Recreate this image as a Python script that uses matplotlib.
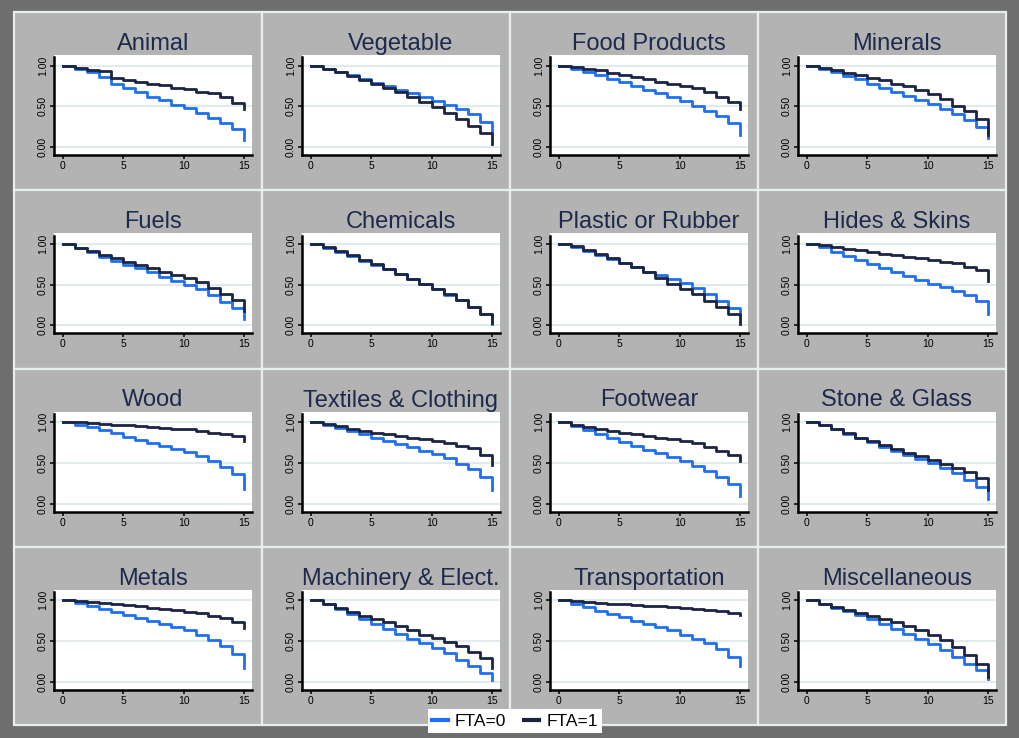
import matplotlib
matplotlib.use("Agg")
import matplotlib.pyplot as plt
from matplotlib.lines import Line2D
from matplotlib.patches import Rectangle

plt.rcParams["font.family"] = ["Liberation Sans", "DejaVu Sans"]

# ====== data: survival share by year, FTA=0 / FTA=1 ======
years = list(range(16))

animal_0 = [1.00, 0.96, 0.92, 0.86, 0.78, 0.72, 0.67, 0.62, 0.58, 0.52, 0.48, 0.42, 0.36, 0.29, 0.22, 0.09]
animal_1 = [1.00, 0.975, 0.95, 0.93, 0.85, 0.82, 0.80, 0.78, 0.76, 0.73, 0.71, 0.68, 0.66, 0.62, 0.54, 0.47]
vegetable_0 = [1.00, 0.96, 0.92, 0.88, 0.83, 0.79, 0.75, 0.70, 0.66, 0.62, 0.57, 0.52, 0.47, 0.40, 0.31, 0.18]
vegetable_1 = [1.00, 0.955, 0.92, 0.87, 0.82, 0.77, 0.72, 0.67, 0.61, 0.55, 0.49, 0.42, 0.35, 0.26, 0.17, 0.04]
food_0 = [1.00, 0.96, 0.92, 0.88, 0.84, 0.80, 0.75, 0.70, 0.66, 0.61, 0.56, 0.50, 0.44, 0.38, 0.30, 0.15]
food_1 = [1.00, 0.98, 0.96, 0.94, 0.91, 0.89, 0.86, 0.83, 0.80, 0.78, 0.75, 0.72, 0.67, 0.62, 0.55, 0.47]
minerals_0 = [1.00, 0.96, 0.92, 0.87, 0.83, 0.78, 0.73, 0.68, 0.63, 0.58, 0.53, 0.47, 0.40, 0.33, 0.25, 0.11]
minerals_1 = [1.00, 0.97, 0.94, 0.91, 0.88, 0.85, 0.82, 0.78, 0.75, 0.70, 0.65, 0.59, 0.50, 0.44, 0.34, 0.15]
fuels_0 = [1.00, 0.95, 0.90, 0.84, 0.79, 0.74, 0.70, 0.65, 0.59, 0.54, 0.49, 0.44, 0.37, 0.29, 0.21, 0.08]
fuels_1 = [1.00, 0.95, 0.91, 0.86, 0.82, 0.78, 0.74, 0.70, 0.66, 0.62, 0.58, 0.53, 0.46, 0.39, 0.31, 0.18]
chemicals_0 = [1.00, 0.955, 0.905, 0.85, 0.79, 0.74, 0.685, 0.625, 0.565, 0.505, 0.445, 0.375, 0.305, 0.225, 0.135, 0.02]
chemicals_1 = [1.00, 0.96, 0.91, 0.86, 0.80, 0.75, 0.69, 0.63, 0.57, 0.51, 0.45, 0.38, 0.31, 0.23, 0.14, 0.03]
plastic_0 = [1.00, 0.96, 0.91, 0.86, 0.81, 0.76, 0.71, 0.66, 0.62, 0.57, 0.52, 0.46, 0.38, 0.30, 0.21, 0.12]
plastic_1 = [1.00, 0.97, 0.92, 0.87, 0.82, 0.77, 0.71, 0.65, 0.58, 0.51, 0.45, 0.38, 0.30, 0.22, 0.14, 0.02]
hides_0 = [1.00, 0.96, 0.90, 0.85, 0.80, 0.75, 0.70, 0.66, 0.61, 0.56, 0.51, 0.47, 0.42, 0.37, 0.30, 0.14]
hides_1 = [1.00, 0.98, 0.96, 0.94, 0.92, 0.90, 0.88, 0.86, 0.84, 0.82, 0.80, 0.78, 0.76, 0.72, 0.68, 0.54]
wood_0 = [1.00, 0.97, 0.94, 0.90, 0.86, 0.82, 0.78, 0.74, 0.71, 0.67, 0.63, 0.58, 0.52, 0.45, 0.36, 0.18]
wood_1 = [1.00, 0.995, 0.99, 0.98, 0.97, 0.96, 0.95, 0.94, 0.93, 0.92, 0.91, 0.89, 0.87, 0.85, 0.83, 0.77]
textiles_0 = [1.00, 0.96, 0.93, 0.89, 0.85, 0.81, 0.77, 0.73, 0.69, 0.65, 0.61, 0.56, 0.49, 0.42, 0.32, 0.17]
textiles_1 = [1.00, 0.98, 0.95, 0.92, 0.89, 0.87, 0.85, 0.83, 0.81, 0.79, 0.77, 0.74, 0.71, 0.68, 0.60, 0.47]
footwear_0 = [1.00, 0.95, 0.90, 0.85, 0.80, 0.76, 0.71, 0.66, 0.62, 0.57, 0.52, 0.46, 0.40, 0.33, 0.24, 0.09]
footwear_1 = [1.00, 0.97, 0.94, 0.91, 0.89, 0.87, 0.85, 0.83, 0.81, 0.79, 0.77, 0.74, 0.70, 0.65, 0.59, 0.52]
stone_0 = [1.00, 0.96, 0.91, 0.85, 0.80, 0.75, 0.70, 0.65, 0.60, 0.55, 0.50, 0.44, 0.37, 0.29, 0.20, 0.05]
stone_1 = [1.00, 0.96, 0.91, 0.86, 0.81, 0.77, 0.72, 0.67, 0.62, 0.58, 0.53, 0.49, 0.44, 0.39, 0.31, 0.17]
metals_0 = [1.00, 0.97, 0.93, 0.89, 0.86, 0.82, 0.78, 0.75, 0.71, 0.67, 0.63, 0.57, 0.51, 0.44, 0.34, 0.17]
metals_1 = [1.00, 0.995, 0.98, 0.97, 0.95, 0.94, 0.93, 0.91, 0.89, 0.88, 0.86, 0.84, 0.81, 0.78, 0.74, 0.66]
machinery_0 = [1.00, 0.95, 0.89, 0.83, 0.77, 0.71, 0.65, 0.59, 0.53, 0.47, 0.41, 0.35, 0.27, 0.19, 0.11, 0.02]
machinery_1 = [1.00, 0.95, 0.90, 0.86, 0.81, 0.77, 0.73, 0.68, 0.63, 0.58, 0.54, 0.49, 0.44, 0.37, 0.29, 0.17]
transport_0 = [1.00, 0.96, 0.92, 0.87, 0.83, 0.79, 0.75, 0.71, 0.67, 0.63, 0.58, 0.53, 0.47, 0.40, 0.31, 0.19]
transport_1 = [1.00, 0.99, 0.98, 0.97, 0.96, 0.95, 0.945, 0.935, 0.925, 0.915, 0.905, 0.895, 0.885, 0.87, 0.85, 0.82]
misc_0 = [1.00, 0.95, 0.91, 0.87, 0.82, 0.77, 0.71, 0.65, 0.59, 0.53, 0.46, 0.39, 0.31, 0.22, 0.14, 0.03]
misc_1 = [1.00, 0.96, 0.92, 0.88, 0.85, 0.81, 0.77, 0.73, 0.68, 0.63, 0.57, 0.51, 0.43, 0.33, 0.22, 0.06]

sectors = [
    ("Animal", animal_0, animal_1),
    ("Vegetable", vegetable_0, vegetable_1),
    ("Food Products", food_0, food_1),
    ("Minerals", minerals_0, minerals_1),
    ("Fuels", fuels_0, fuels_1),
    ("Chemicals", chemicals_0, chemicals_1),
    ("Plastic or Rubber", plastic_0, plastic_1),
    ("Hides & Skins", hides_0, hides_1),
    ("Wood", wood_0, wood_1),
    ("Textiles & Clothing", textiles_0, textiles_1),
    ("Footwear", footwear_0, footwear_1),
    ("Stone & Glass", stone_0, stone_1),
    ("Metals", metals_0, metals_1),
    ("Machinery & Elect.", machinery_0, machinery_1),
    ("Transportation", transport_0, transport_1),
    ("Miscellaneous", misc_0, misc_1),
]

x_ticks = [0, 5, 10, 15]
y_ticks = [0.0, 0.5, 1.0]
y_tick_labels = ["0.00", "0.50", "1.00"]
legend_labels = ["FTA=0", "FTA=1"]

# ====== style ======
W, H = 1020, 738
OUTER = "#6e6e6e"
PANEL = "#b3b3b3"
SEP = "#e6eeee"
GRID = "#e1ebeb"
BLUE = "#1f6ff2"
NAVY = "#1b2442"
TITLE = "#1e2a4c"

LEFT, TOP = 14, 12
PW, PH = 248, 178.25

fig = plt.figure(figsize=(W / 100, H / 100), dpi=100, facecolor=OUTER)


def fx(px):
    return px / W


def fy(py):
    return 1 - py / H


for i, (name, fta0, fta1) in enumerate(sectors):
    r, c = divmod(i, 4)
    x0 = LEFT + c * PW
    y0 = TOP + r * PH

    # panel background, drawn below the axes
    fig.patches.append(Rectangle(
        (fx(x0), fy(y0 + PH)), PW / W, PH / H,
        transform=fig.transFigure, facecolor=PANEL,
        edgecolor=SEP, linewidth=1.6, zorder=-5,
    ))

    ax = fig.add_axes([fx(x0 + 40), fy(y0 + 143), 198 / W, 100 / H])
    ax.set_zorder(2)
    ax.set_facecolor("white")
    ax.step(years, fta0, where="post", color=BLUE, linewidth=2.0)
    ax.step(years, fta1, where="post", color=NAVY, linewidth=2.0)

    ax.set_xlim(-0.72, 15.66)
    ax.set_ylim(-0.098, 1.13)
    ax.set_xticks(x_ticks)
    ax.set_yticks(y_ticks)
    ax.set_yticklabels(y_tick_labels, rotation=90, va="center")
    ax.tick_params(axis="both", labelsize=7.5, length=3, width=1.1,
                   direction="out", pad=1.5, colors="black")
    for t in y_ticks:
        ax.axhline(t, color=GRID, linewidth=1.5, zorder=0)

    for side in ("top", "right"):
        ax.spines[side].set_visible(False)
    for side in ("left", "bottom"):
        ax.spines[side].set_linewidth(1.8)
    ax.spines["left"].set_bounds(-0.098, 1.1)

    fig.text(fx(x0 + 139), fy(y0 + 38), name, ha="center", va="baseline",
             fontsize=17, color=TITLE, zorder=3)

handles = [Line2D([], [], color=BLUE, linewidth=3),
           Line2D([], [], color=NAVY, linewidth=3)]
leg = fig.legend(handles, legend_labels, loc="center",
                 bbox_to_anchor=(fx(515), fy(721)), ncol=2,
                 fontsize=12.5, handlelength=0.9, handletextpad=0.4,
                 columnspacing=1.0, borderpad=0.25, fancybox=False,
                 framealpha=1, facecolor="white", edgecolor="white")
leg.get_frame().set_linewidth(0)
leg.set_zorder(5)

fig.savefig("out.png", dpi=100, facecolor=OUTER)
